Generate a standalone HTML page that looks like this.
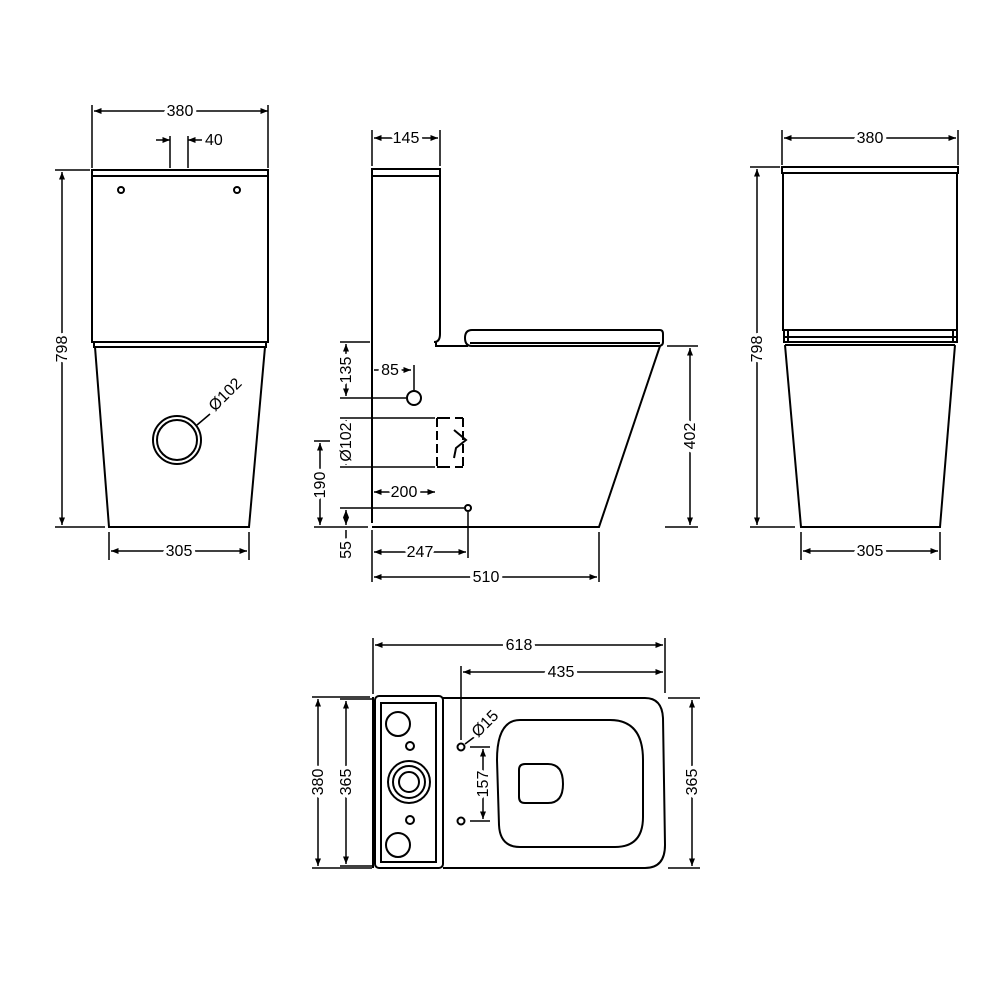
<!DOCTYPE html>
<html><head><meta charset="utf-8"><style>
html,body{margin:0;padding:0;background:#fff}
svg{display:block}
text{font-family:"Liberation Sans",sans-serif;font-size:16px;fill:#000;stroke:#fff;stroke-width:7px;paint-order:stroke;stroke-linejoin:round}
</style></head><body>
<svg width="1000" height="1000" viewBox="0 0 1000 1000" xmlns="http://www.w3.org/2000/svg">
<defs>
<marker id="a" viewBox="0 0 10 10" refX="10" refY="5" markerWidth="7" markerHeight="5" orient="auto-start-reverse"><path d="M0,1L10,5L0,9z" fill="#000"/></marker>
</defs>
<g fill="none" stroke="#000" stroke-width="2">
<rect x="92" y="170" width="176" height="6"/>
<rect x="92" y="176" width="176" height="166"/>
<path d="M94,342H266V347H94Z"/>
<path d="M95,347L109,527H249L265,347"/>
<circle cx="121" cy="190" r="3"/><circle cx="237" cy="190" r="3"/>
<circle cx="177" cy="440" r="24"/><circle cx="177" cy="440" r="20"/>
<path d="M197,425L210,414" stroke-width="1.5"/>
<g stroke-width="1.5">
<path d="M92,105V168M268,105V168"/>
<path d="M94,111H268" marker-start="url(#a)" marker-end="url(#a)"/>
<path d="M170,136V168M188,136V168"/>
<path d="M156,140H170" marker-end="url(#a)"/><path d="M202,140H188" marker-end="url(#a)"/>
<path d="M55,170H90M55,527H105"/>
<path d="M62,172V525" marker-start="url(#a)" marker-end="url(#a)"/>
<path d="M109,532V560M249,532V560"/>
<path d="M111,551H247" marker-start="url(#a)" marker-end="url(#a)"/>
</g>
<rect x="372" y="169" width="68" height="7"/>
<path d="M372,176V523M440,176V334Q440,342 434,342H436V346H468"/>
<path d="M372,527H599L660,346"/>
<path d="M472,330H660Q663,330 663,334V342Q663,346 658,346H472Q465,346 465,338Q465,330 472,330Z"/>
<path d="M470,343H660"/>
<circle cx="414" cy="398" r="7"/><circle cx="468" cy="508" r="3"/>
<path d="M437,418V467M463,418V467" stroke-dasharray="9,4"/>
<path d="M437,418H450M455,418H463M437,467H450M455,467H463M454,430L466,440L456,448L454,458"/>
<g stroke-width="1.5">
<path d="M372,130V166M440,130V166"/>
<path d="M374,138H438" marker-start="url(#a)" marker-end="url(#a)"/>
<path d="M340,342H370"/>
<path d="M346,344V396" marker-start="url(#a)" marker-end="url(#a)"/>
<path d="M340,398H406"/>
<path d="M374,370H411" marker-end="url(#a)"/><path d="M414,365V390"/>
<path d="M340,418H435M340,467H435"/>
<path d="M346,420V465" marker-start="url(#a)" marker-end="url(#a)"/>
<path d="M314,441H330"/>
<path d="M320,443V525" marker-start="url(#a)" marker-end="url(#a)"/>
<path d="M314,527H368"/>
<path d="M340,508H464"/>
<path d="M346,510V525" marker-start="url(#a)" marker-end="url(#a)"/>
<path d="M346,530V560"/>
<path d="M374,492H435" marker-start="url(#a)" marker-end="url(#a)"/>
<path d="M468,512V558"/>
<path d="M374,552H466" marker-start="url(#a)" marker-end="url(#a)"/>
<path d="M372,530V582M599,532V582"/>
<path d="M374,577H597" marker-start="url(#a)" marker-end="url(#a)"/>
<path d="M667,346H698M665,527H698"/>
<path d="M690,348V525" marker-start="url(#a)" marker-end="url(#a)"/>
</g>
<rect x="782" y="167" width="176" height="6"/>
<rect x="783" y="173" width="174" height="157"/>
<rect x="784" y="330" width="173" height="12"/>
<path d="M788,330V342M953,330V342M784,337H957"/>
<path d="M785,345H955M785,345L801,527H940L955,345"/>
<g stroke-width="1.5">
<path d="M782,130V165M958,130V165"/>
<path d="M784,138H956" marker-start="url(#a)" marker-end="url(#a)"/>
<path d="M750,167H780M750,527H795"/>
<path d="M757,169V525" marker-start="url(#a)" marker-end="url(#a)"/>
<path d="M801,532V560M940,532V560"/>
<path d="M803,551H938" marker-start="url(#a)" marker-end="url(#a)"/>
</g>
<path d="M443,698H645Q662,698 663,718L665,845Q665,868 645,868H443"/>
<rect x="375" y="696" width="68" height="172" rx="4"/>
<rect x="381" y="703" width="55" height="159"/>
<path d="M373,697V868"/>
<circle cx="398" cy="724" r="12"/><circle cx="398" cy="845" r="12"/>
<circle cx="410" cy="746" r="4"/><circle cx="410" cy="820" r="4"/>
<circle cx="409" cy="782" r="21"/><circle cx="409" cy="782" r="16"/><circle cx="409" cy="782" r="10"/>
<path d="M520,720H610Q643,720 643,760V817Q643,847 615,847H520Q500,847 499,825L497,760Q497,720 520,720Z"/>
<path d="M525,764H548Q563,764 563,784Q563,803 548,803H525Q519,803 519,797V770Q519,764 525,764Z"/>
<circle cx="461" cy="747" r="3.5"/><circle cx="461" cy="821" r="3.5"/>
<path d="M465,744L477,735" stroke-width="1.5"/>
<g stroke-width="1.5">
<path d="M373,638V694M665,638V693"/>
<path d="M375,645H663" marker-start="url(#a)" marker-end="url(#a)"/>
<path d="M461,666V740"/>
<path d="M463,672H663" marker-start="url(#a)" marker-end="url(#a)"/>
<path d="M312,697H370M312,868H372"/>
<path d="M318,699V866" marker-start="url(#a)" marker-end="url(#a)"/>
<path d="M340,699H372M340,866H372"/>
<path d="M346,701V864" marker-start="url(#a)" marker-end="url(#a)"/>
<path d="M470,747H490M470,821H490"/>
<path d="M483,749V819" marker-start="url(#a)" marker-end="url(#a)"/>
<path d="M668,698H700M668,868H700"/>
<path d="M692,700V866" marker-start="url(#a)" marker-end="url(#a)"/>
</g>
</g>
<text x="180" y="116" text-anchor="middle">380</text>
<text x="205" y="145">40</text>
<text x="179" y="556" text-anchor="middle">305</text>
<text transform="translate(67,349) rotate(-90)" text-anchor="middle">798</text>
<text transform="translate(215,412) rotate(-45)">Ø102</text>
<text x="406" y="143" text-anchor="middle">145</text>
<text x="390" y="375" text-anchor="middle">85</text>
<text transform="translate(351,370) rotate(-90)" text-anchor="middle">135</text>
<text transform="translate(351,442) rotate(-90)" text-anchor="middle">Ø102</text>
<text transform="translate(325,485) rotate(-90)" text-anchor="middle">190</text>
<text transform="translate(351,550) rotate(-90)" text-anchor="middle">55</text>
<text x="404" y="497" text-anchor="middle">200</text>
<text x="420" y="557" text-anchor="middle">247</text>
<text x="486" y="582" text-anchor="middle">510</text>
<text transform="translate(695,436) rotate(-90)" text-anchor="middle">402</text>
<text x="870" y="143" text-anchor="middle">380</text>
<text x="870" y="556" text-anchor="middle">305</text>
<text transform="translate(762,349) rotate(-90)" text-anchor="middle">798</text>
<text x="519" y="650" text-anchor="middle">618</text>
<text x="561" y="677" text-anchor="middle">435</text>
<text transform="translate(323,782) rotate(-90)" text-anchor="middle">380</text>
<text transform="translate(351,782) rotate(-90)" text-anchor="middle">365</text>
<text transform="translate(488,784) rotate(-90)" text-anchor="middle">157</text>
<text transform="translate(697,782) rotate(-90)" text-anchor="middle">365</text>
<text transform="translate(478,738) rotate(-45)">Ø15</text>
</svg>
</body></html>
